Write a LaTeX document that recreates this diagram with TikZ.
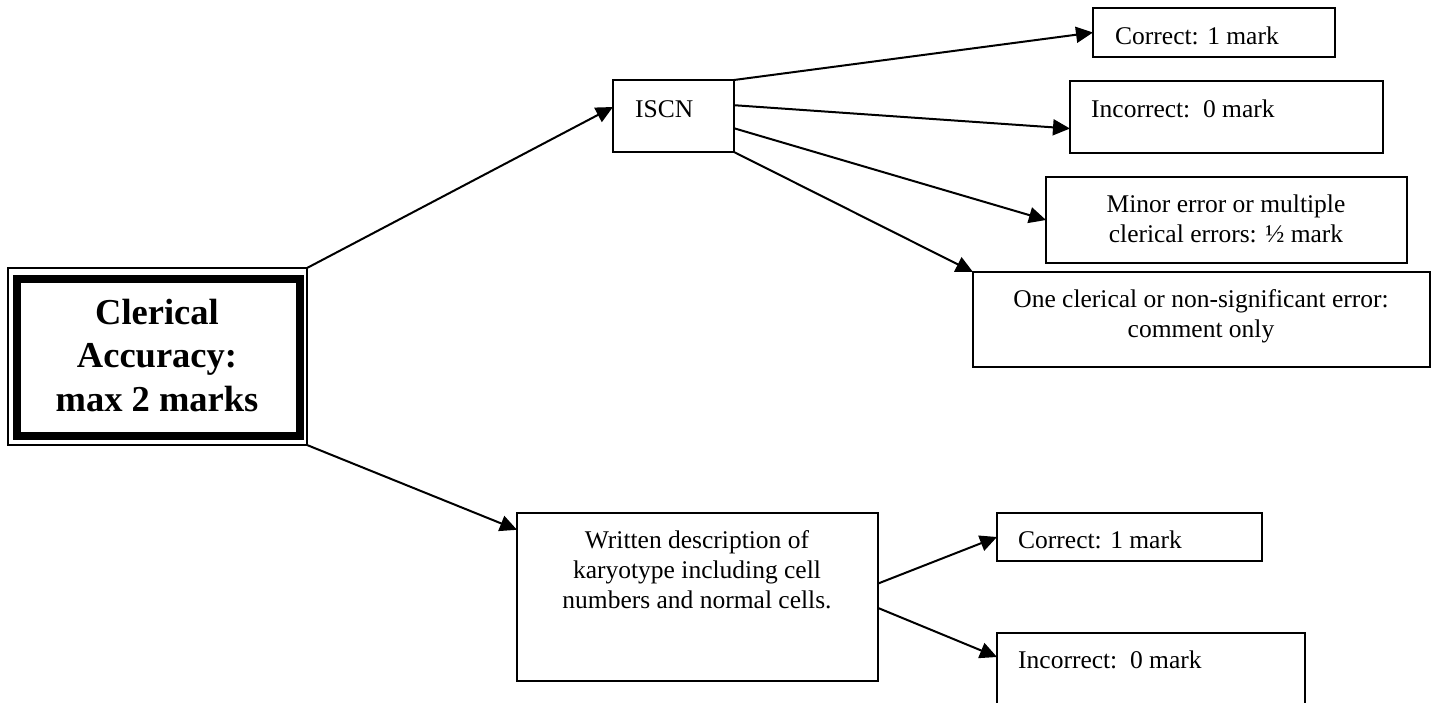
\documentclass[tikz,border=0pt]{standalone}
\usepackage{fontspec}
\setmainfont{Liberation Serif}
\usetikzlibrary{arrows.meta,calc}
\tikzset{
  box/.style={draw, rectangle, line width=2pt, inner sep=0pt, outer sep=0pt, anchor=north west},
  txt/.style={inner sep=0pt, font=\fontsize{25.5}{30}\selectfont},
  bigtxt/.style={inner sep=0pt, font=\fontsize{36.5}{43.5}\selectfont\bfseries},
  arr/.style={-{Triangle[length=17pt,width=16pt]}, line width=2pt},
}
\begin{document}
\begin{tikzpicture}[x=1pt,y=-1pt]
\useasboundingbox (0,0) rectangle (1436,702);
\clip (0,0) rectangle (1436,702);
% main box (double frame)
\node[box, line width=1.6pt, minimum width=299pt, minimum height=177pt] (cla) at (8,268) {};
\node[box, line width=8pt, minimum width=283pt, minimum height=157pt] (claIn) at (17,279) {};
\node[bigtxt, anchor=base] (claT) at (157,324) {\begin{tabular}[t]{@{}c@{}}Clerical\\Accuracy:\\max 2 marks\end{tabular}};
% ISCN branch
\node[box, minimum width=121pt, minimum height=72pt] (iscn) at (613,80) {};
\node[txt, anchor=base west] (iscnT) at (635,117) {ISCN};
\node[box, minimum width=242pt, minimum height=49pt] (c1) at (1093,8) {};
\node[txt, anchor=base west] (c1T) at (1115,44) {Correct: 1 mark};
\node[box, minimum width=313pt, minimum height=72pt] (inc1) at (1070,81) {};
\node[txt, anchor=base west] (inc1T) at (1091,117) {Incorrect:\ \ 0 mark};
\node[box, minimum width=361pt, minimum height=86pt] (minor) at (1046,177) {};
\node[txt, anchor=base] (minorT) at (1226,212) {\begin{tabular}[t]{@{}c@{}}Minor error or multiple\\clerical errors: ½ mark\end{tabular}};
\node[box, minimum width=457pt, minimum height=95pt] (one) at (973,272) {};
\node[txt, anchor=base] (oneT) at (1201,307) {\begin{tabular}[t]{@{}c@{}}One clerical or non-significant error:\\comment only\end{tabular}};
% written branch
\node[box, minimum width=361pt, minimum height=168pt] (wr) at (517,513) {};
\node[txt, anchor=base] (wrT) at (697,548) {\begin{tabular}[t]{@{}c@{}}Written description of\\karyotype including cell\\numbers and normal cells.\end{tabular}};
\node[box, minimum width=265pt, minimum height=48pt] (c2) at (997,513) {};
\node[txt, anchor=base west] (c2T) at (1018,548) {Correct: 1 mark};
\node[box, minimum width=308pt, minimum height=110pt] (inc2) at (997,633) {};
\node[txt, anchor=base west] (inc2T) at (1018,668) {Incorrect:\ \ 0 mark};
% connectors
\draw[arr] (cla.north east) -- ($(iscn.north west)!0.375!(iscn.south west)$);
\draw[arr] (cla.south east) -- ($(wr.north west)!0.1!(wr.south west)$);
\draw[arr] (iscn.north east) -- (c1.west);
\draw[arr] ($(iscn.north east)!0.35!(iscn.south east)$) -- ($(inc1.north west)!0.66!(inc1.south west)$);
\draw[arr] ($(iscn.north east)!0.67!(iscn.south east)$) -- (minor.west);
\draw[arr] (iscn.south east) -- (one.north west);
\draw[arr] ($(wr.north east)!0.42!(wr.south east)$) -- (c2.west);
\draw[arr] ($(wr.north east)!0.565!(wr.south east)$) -- ($(inc2.north west)+(0,24)$);
\end{tikzpicture}
\end{document}
